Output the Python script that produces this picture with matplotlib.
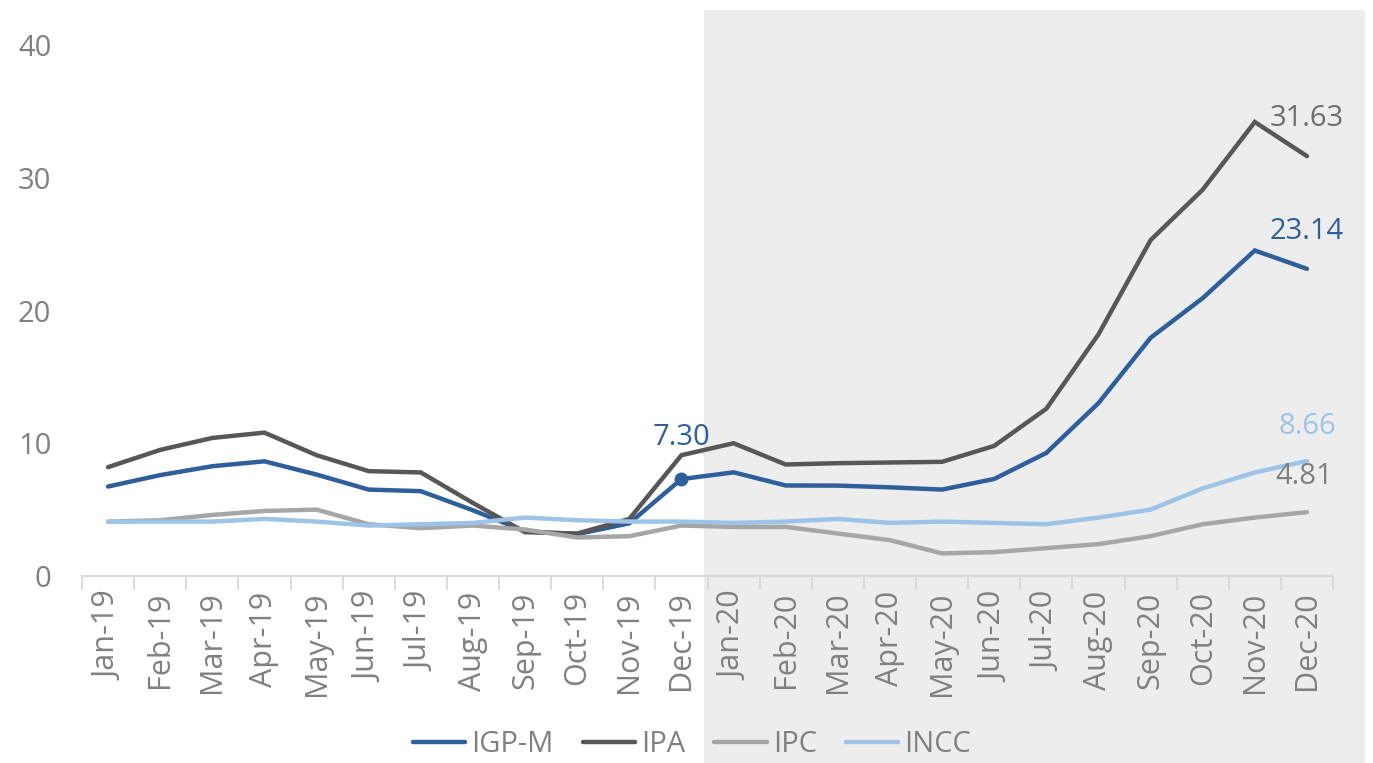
import matplotlib.pyplot as plt
from matplotlib.patches import Rectangle

plt.rcParams["font.family"] = ["Open Sans", "DejaVu Sans"]

months = [
    "Jan-19", "Feb-19", "Mar-19", "Apr-19", "May-19", "Jun-19",
    "Jul-19", "Aug-19", "Sep-19", "Oct-19", "Nov-19", "Dec-19",
    "Jan-20", "Feb-20", "Mar-20", "Apr-20", "May-20", "Jun-20",
    "Jul-20", "Aug-20", "Sep-20", "Oct-20", "Nov-20", "Dec-20",
]
igpm = [6.74, 7.60, 8.27, 8.64, 7.64, 6.51, 6.39, 4.95, 3.37, 3.15, 3.97, 7.30,
        7.81, 6.82, 6.81, 6.68, 6.51, 7.31, 9.27, 13.02, 17.94, 20.93, 24.52, 23.14]
ipa = [8.2, 9.5, 10.4, 10.8, 9.1, 7.9, 7.8, 5.5, 3.3, 3.2, 4.3, 9.1,
       10.0, 8.4, 8.5, 8.55, 8.6, 9.8, 12.6, 18.2, 25.3, 29.1, 34.2, 31.63]
ipc = [4.1, 4.2, 4.6, 4.9, 5.0, 3.9, 3.6, 3.8, 3.5, 2.9, 3.0, 3.8,
       3.7, 3.7, 3.2, 2.7, 1.7, 1.8, 2.1, 2.4, 3.0, 3.9, 4.4, 4.81]
incc = [4.1, 4.1, 4.1, 4.3, 4.1, 3.8, 3.9, 4.0, 4.4, 4.2, 4.1, 4.1,
        4.0, 4.1, 4.3, 4.0, 4.1, 4.0, 3.9, 4.4, 5.0, 6.6, 7.8, 8.66]

series = [
    ("IGP-M", igpm, "#2e5f9b"),
    ("IPA", ipa, "#575757"),
    ("IPC", ipc, "#a6a6a6"),
    ("INCC", incc, "#9dc3e6"),
]

fig = plt.figure(figsize=(13.73, 7.63), dpi=100)
ax = fig.add_axes([82 / 1373, 187 / 763, 1251 / 1373, 531 / 763])
ax.patch.set_alpha(0)

# grey band behind the 2020 half
fig.patches.append(Rectangle((704 / 1373, 0), 661 / 1373, 753 / 763,
                             transform=fig.transFigure, facecolor="#ededed",
                             edgecolor="none", zorder=-10))

x = list(range(len(months)))
for name, vals, color in series:
    ax.plot(x, vals, color=color, lw=3.2, label=name, solid_capstyle="round",
            solid_joinstyle="miter")

# marker and labels
ax.plot(11, igpm[11], "o", color="#2e5f9b", ms=9)
lab_kw = dict(fontsize=21, ha="center", va="center")
ax.text(11, igpm[11] + 3.1, f"{igpm[11]:.2f}", color="#2e5f9b", **lab_kw)
ax.text(23, ipa[-1] + 2.8, f"{ipa[-1]:.2f}", color="#6e6e6e", **lab_kw)
ax.text(23, igpm[-1] + 2.8, f"{igpm[-1]:.2f}", color="#2e5f9b", **lab_kw)
ax.text(23, incc[-1] + 2.6, f"{incc[-1]:.2f}", color="#9dc3e6", **lab_kw)
ax.text(22.95, ipc[-1] + 2.7, f"{ipc[-1]:.2f}", color="#7f7f7f", **lab_kw)

ax.set_xlim(-0.5, 23.5)
ax.set_ylim(0, 40)
ax.set_yticks([0, 10, 20, 30, 40])
ax.tick_params(axis="y", length=0, labelsize=21, labelcolor="#808080", pad=22)

ax.set_xticks(x)
ax.set_xticklabels(months, rotation=90)
ax.tick_params(axis="x", which="major", length=0, labelsize=22,
               labelcolor="#808080", pad=11)
ax.set_xticks([i - 0.5 for i in range(25)], minor=True)
ax.tick_params(axis="x", which="minor", length=10, width=1.3, color="#d9d9d9")

for s in ["top", "right", "left"]:
    ax.spines[s].set_visible(False)
ax.spines["bottom"].set_color("#d9d9d9")
ax.spines["bottom"].set_linewidth(1.5)

leg = fig.legend(loc="center", bbox_to_anchor=(692 / 1373, 18 / 763), ncol=4,
                 frameon=False, fontsize=21, handlelength=1.8,
                 handletextpad=0.2, columnspacing=1.0)
for t in leg.get_texts():
    t.set_color("#808080")

fig.savefig("out.png", dpi=100)
